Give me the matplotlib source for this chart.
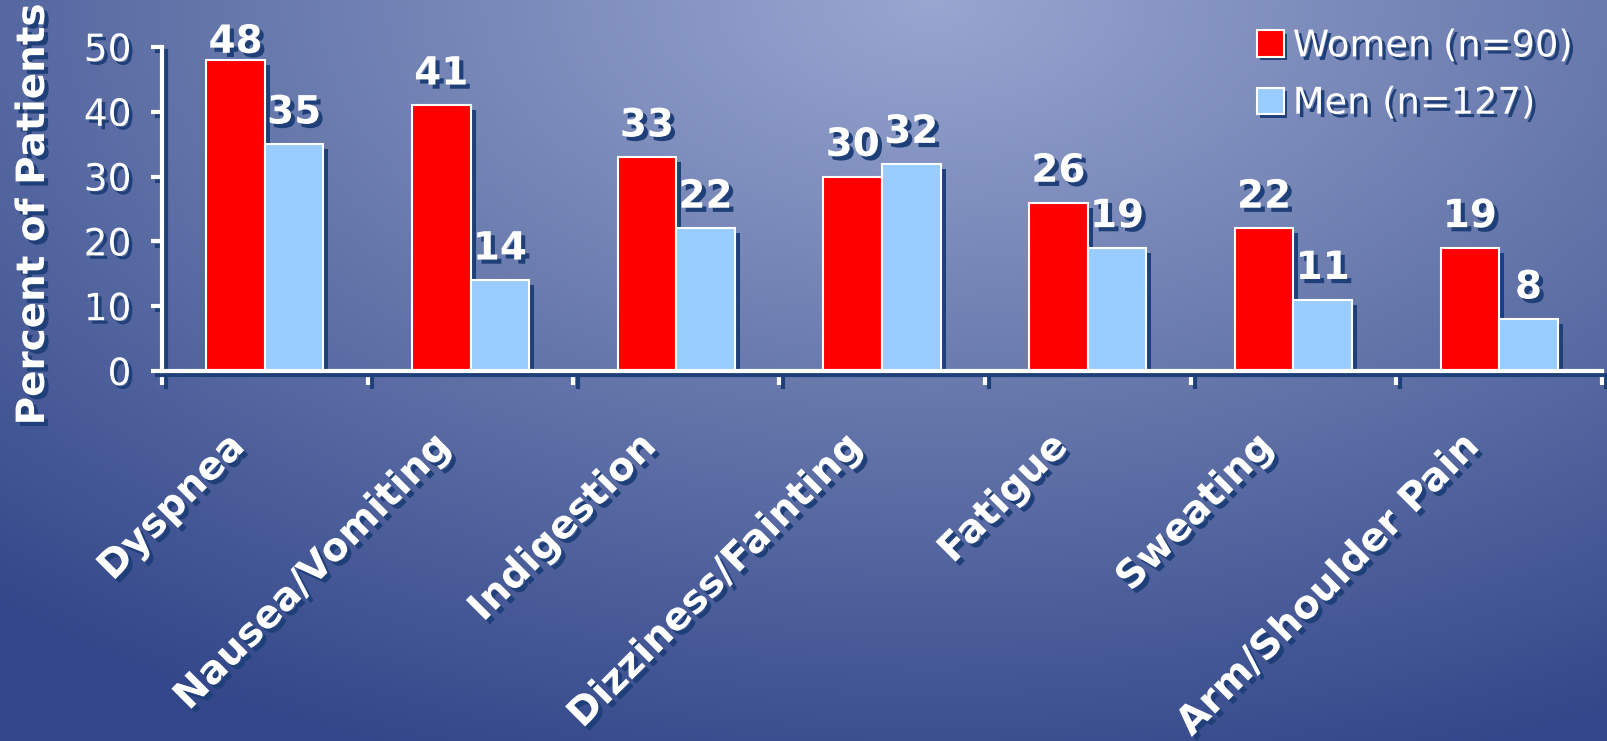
import matplotlib
matplotlib.use("Agg")
import matplotlib.pyplot as plt
import matplotlib.patheffects as pe
from matplotlib.colors import LinearSegmentedColormap
import numpy as np

# datos del gráfico
categorias = ["Dyspnea", "Nausea/Vomiting", "Indigestion", "Dizziness/Fainting",
              "Fatigue", "Sweating", "Arm/Shoulder Pain"]
mujeres = [48, 41, 33, 30, 26, 22, 19]
hombres = [35, 14, 22, 32, 19, 11, 8]
etiquetas_series = ["Women (n=90)", "Men (n=127)"]
yticks = [0, 10, 20, 30, 40, 50]

sombra = "#1f3f78"
blanco = "white"


def efecto_sombra(dx=3, dy=-3):
    return [pe.SimplePatchShadow(offset=(dx, dy), shadow_rgbFace=sombra, alpha=1.0),
            pe.Normal()]


def efecto_linea(dx=3, dy=-3):
    return [pe.SimpleLineShadow(offset=(dx, dy), shadow_color=sombra, alpha=1.0),
            pe.Normal()]


fig = plt.figure(figsize=(16.07, 7.41), dpi=100)

# fondo con degradado
bg = fig.add_axes([0, 0, 1, 1], zorder=-10)
yy, xx = np.mgrid[0:1:300j, 0:1:600j]
dist = np.sqrt(((xx - 0.58) * 1.25) ** 2 + ((yy - 0.0) * 1.0) ** 2)
dist = np.clip(dist / 1.1, 0, 1)
cmap = LinearSegmentedColormap.from_list("fondo", ["#98a6d0", "#6677ab", "#33478a"])
bg.imshow(dist, cmap=cmap, aspect="auto", extent=[0, 1, 0, 1], origin="upper",
          vmin=0, vmax=1)
bg.axis("off")

ax = fig.add_axes([0.1008, 0.4993, 0.8961, 0.4373])
ax.patch.set_alpha(0)

x = np.arange(len(categorias))
ancho = 0.285
b1 = ax.bar(x - ancho / 2, mujeres, ancho, color="#ff0000", edgecolor=blanco,
            linewidth=1.5, label=etiquetas_series[0], zorder=3)
b2 = ax.bar(x + ancho / 2, hombres, ancho, color="#99ccff", edgecolor=blanco,
            linewidth=1.5, label=etiquetas_series[1], zorder=3)
for b in list(b1) + list(b2):
    b.set_path_effects(efecto_sombra(3.6, -3.6))

# etiquetas de valores (se bajan si no caben arriba)
for barras, vals in ((b1, mujeres), (b2, hombres)):
    for b, v in zip(barras, vals):
        y_base = min(v + 3.2, 49.1)
        ax.text(b.get_x() + b.get_width() / 2, y_base, str(v),
                ha="center", va="baseline", fontsize=28, fontweight="bold",
                color=blanco, path_effects=efecto_sombra(3, -3),
                clip_on=False, zorder=5)

ax.set_xlim(-0.5, len(categorias) - 0.5)
ax.set_ylim(0, 50)

for s in ("top", "right"):
    ax.spines[s].set_visible(False)
for s in ("left", "bottom"):
    ax.spines[s].set_color(blanco)
    ax.spines[s].set_linewidth(3)
    ax.spines[s].set_path_effects(efecto_linea(3, -3))
    ax.spines[s].set_zorder(4)

ax.set_yticks(yticks)
ax.set_yticklabels([str(t) for t in yticks], fontsize=27, color=blanco)
ax.tick_params(axis="y", length=8, width=3, color=blanco, pad=14)
for t in ax.get_yticklabels():
    t.set_path_effects(efecto_sombra(2.5, -2.5))

ax.set_xticks(x)
ax.set_xticklabels([])
ax.tick_params(axis="x", which="major", length=0)
ax.set_xticks(np.arange(len(categorias) + 1) - 0.5, minor=True)
ax.tick_params(axis="x", which="minor", length=10, width=3, color=blanco, direction="out")

for tl in ax.yaxis.get_ticklines() + ax.xaxis.get_minorticklines():
    tl.set_path_effects(efecto_linea(3, -3))

# etiquetas de categorías
for xi, cat in zip(x, categorias):
    ax.annotate(cat, (xi, 0), xytext=(-19, -50), textcoords="offset points",
                rotation=45, rotation_mode="anchor", ha="right", va="center",
                fontsize=28, fontweight="bold", color=blanco,
                path_effects=efecto_sombra(3, -3), annotation_clip=False)

fig.text(0.0205, 0.71, "Percent of Patients", rotation=90, ha="center", va="center",
         fontsize=28, fontweight="bold", color=blanco,
         path_effects=efecto_sombra(3, -3))

leg = ax.legend(loc="upper left", bbox_to_anchor=(0.782, 0.963), bbox_transform=fig.transFigure,
                frameon=False, fontsize=26.5, handlelength=0.73, handleheight=0.73,
                handletextpad=0.25, labelspacing=0.55, borderaxespad=0, borderpad=0)
for t in leg.get_texts():
    t.set_color(blanco)
    t.set_path_effects(efecto_sombra(2.5, -2.5))
for h in leg.legend_handles:
    h.set_path_effects(efecto_sombra(2.5, -2.5))

fig.savefig("out.png", dpi=100)
